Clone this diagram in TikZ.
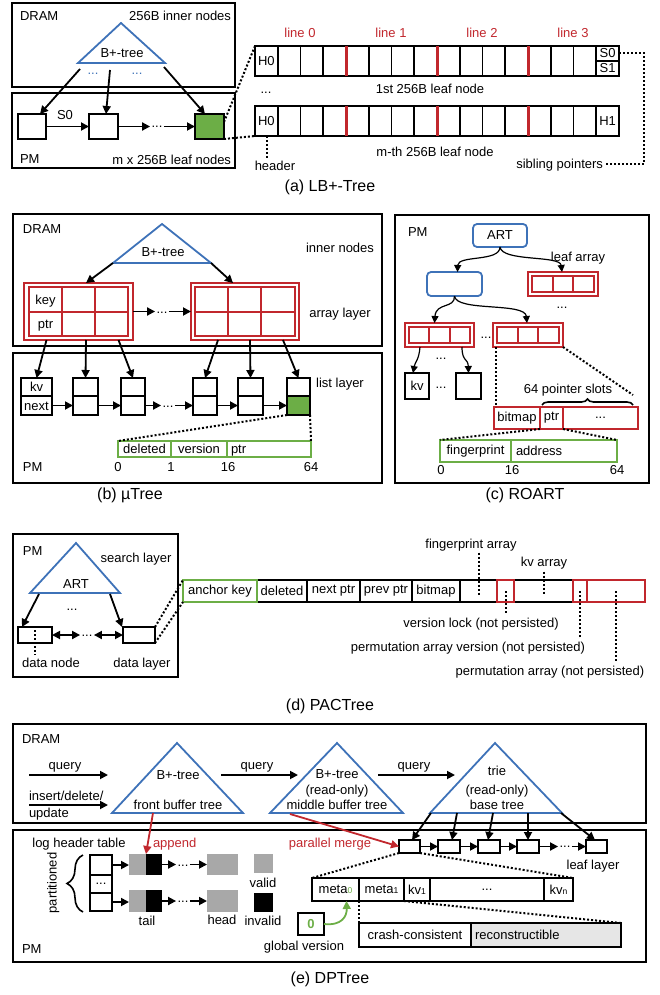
\documentclass[tikz,border=0pt]{standalone}
\usepackage{fontspec}
\setmainfont{Liberation Sans}
\usetikzlibrary{arrows.meta,calc,decorations.pathreplacing}
\definecolor{tblue}{HTML}{3E72B8}
\definecolor{rred}{HTML}{C1272D}
\definecolor{pgreen}{HTML}{6CAE46}
\definecolor{lgray}{HTML}{A8A8A8}
\definecolor{vlgray}{HTML}{E6E6E6}
\newcommand{\myfs}{\fontsize{13}{15}\selectfont}
\newcommand{\subfs}{\fontsize{8.5}{9}\selectfont}
\newcommand{\bx}[7][]{\node[cell,#1,anchor=north west,minimum width={#5pt-#3pt},minimum height={#6pt-#4pt}] (#2) at (#3,#4) {#7};}
\tikzset{
 cell/.style={draw, line width=1.8pt, inner sep=0pt, outer sep=0pt, font=\myfs},
 frame/.style={line width=2pt},
 txt/.style={inner sep=0pt, outer sep=0pt, font=\myfs, text height=9.3pt, text depth=0pt},
 captxt/.style={inner sep=0pt, font=\fontsize{16}{18}\selectfont, text height=11.5pt, text depth=0pt},
 ellip/.style={inner sep=1.5pt, outer sep=0pt, font=\myfs, text height=0pt, text depth=0pt},
 arr/.style={line width=1.8pt, -{Triangle[length=8pt,width=8pt]}},
 darr/.style={line width=1.8pt, {Triangle[length=8pt,width=8pt]}-{Triangle[length=8pt,width=8pt]}},
 arrs/.style={line width=1.2pt, -{Triangle[length=7pt,width=7pt]}},
 dots/.style={line width=2pt, dash pattern=on 2pt off 2pt},
 tri/.style={draw=tblue, line width=1.8pt},
 rcell/.style={draw=rred, line width=1.8pt},
}
\begin{document}
\begin{tikzpicture}[x=1pt,y=-1pt]
\useasboundingbox (0,0) rectangle (660,995);
% ================= (a) LB+-Tree
\bx[frame]{aD}{12}{3}{235}{87}{}
\bx[frame]{aP}{12}{93}{235}{168}{}
\node[txt,anchor=west] (aDt) at (20,16) {DRAM};
\node[txt,anchor=east] (aIt) at (231,16) {256B inner nodes};
\node[txt,anchor=west] (aPt) at (20,159) {PM};
\node[txt,anchor=east] (aLt) at (231,160) {m x 256B leaf nodes};
\draw[tri] (121,23) -- (165,63) -- (78,63) -- cycle;
\node[txt] (aBt) at (122,53) {B+-tree};
\node[ellip,tblue] (aE1) at (93,75) {...};
\node[ellip,tblue] (aE2) at (137,75) {...};
\coordinate (aS1) at (80,69);
\coordinate (aS2) at (110,70);
\coordinate (aS3) at (164,67);
\bx{aB1}{18}{114}{46}{139}{}
\bx{aB2}{89}{114}{118}{139}{}
\bx[fill=pgreen]{aB3}{195}{114}{224}{139}{}
\draw[arr] (aS1) -- ([xshift=8pt]aB1.north);
\draw[arr] (aS2) -- ([xshift=2.5pt]aB2.north);
\draw[arr] (aS3) -- ([xshift=-4.5pt]aB3.north);
\node[txt] (aS0) at (65,115) {S0};
\draw[arr] (aB1.east) -- (aB2.west);
\node[ellip] (aE3) at (157,128) {...};
\draw[arr] (aB2.east) -- (aE3.west |- aB2.east);
\draw[arr] (aE3.east |- aB3.west) -- (aB3.west);
\foreach \i in {0,...,14}{
  \pgfmathsetmacro\xa{255+22.75*\i}
  \pgfmathsetmacro\xb{255+22.75*(\i+1)}
  \bx{aT\i}{\xa}{46}{\xb}{76}{}
  \bx{aM\i}{\xa}{106}{\xb}{136}{}
}
\bx{aS0c}{596.25}{46}{619}{61}{S0}
\bx{aS1c}{596.25}{61}{619}{76}{S1}
\bx{aH1}{596.25}{106}{619}{136}{H1}
\node[txt] (aH0a) at (aT0) {H0};
\node[txt] (aH0b) at (aM0) {H0};
\foreach \i in {4,8,12}{
  \draw[rred, line width=3pt] (aT\i.north west) -- (aT\i.south west);
  \draw[rred, line width=3pt] (aM\i.north west) -- (aM\i.south west);
}
\node[txt,rred] (aL0) at (300,33) {line 0};
\node[txt,rred] (aL1) at (391,33) {line 1};
\node[txt,rred] (aL2) at (482,33) {line 2};
\node[txt,rred] (aL3) at (573,33) {line 3};
\node[txt] (a1st) at (430,89) {1st 256B leaf node};
\node[txt] (amth) at (435,152) {m-th 256B leaf node};
\node[ellip] (aE4) at (266,94) {...};
\node[txt] (aHd) at (275,166) {header};
\draw[dots] ([xshift=1pt]aM0.south) -- ([xshift=1pt,yshift=3pt]aM0.south |- aHd.north);
\node[txt,anchor=east] (aSib) at (603,164) {sibling pointers};
\draw[dots] (aS0c.east) -- ++(25,0) |- ([xshift=1pt]aSib.east);
\draw[dots] ([yshift=-8pt]aB3.north east) -- (aT0.north west);
\draw[dots] (aB3.south east) -- (aM0.south west);
\node[captxt] (aCap) at (330,186) {(a) LB+-Tree};
% ================= (b) muTree
\bx[frame]{bD}{13}{214}{382}{346}{}
\bx[frame]{bP}{13}{353}{382}{483}{}
\node[txt,anchor=west] (bDt) at (23,229) {DRAM};
\node[txt] (bIn) at (340,248) {inner nodes};
\node[txt] (bAl) at (340,313) {array layer};
\node[txt] (bLl) at (340,383) {list layer};
\node[txt,anchor=west] (bPt) at (23,467) {PM};
\draw[tri] (162,224) -- (211,263) coordinate (bTr) -- (113,263) coordinate (bTl) -- cycle;
\node[txt] (bBt) at (163,252) {B+-tree};
\bx[draw=rred,line width=1.3pt]{bA1}{24}{283}{133}{340}{}
\bx[draw=rred,line width=1.3pt]{bA2}{191}{283}{299}{340}{}
\foreach \c/\xa/\xb in {0/29/62,1/62/95,2/95/128}{
  \bx[rcell]{bA1a\c}{\xa}{287}{\xb}{312}{}
  \bx[rcell]{bA1b\c}{\xa}{312}{\xb}{336}{}
}
\foreach \c/\xa/\xb in {0/195/228,1/228/261,2/261/295}{
  \bx[rcell]{bA2a\c}{\xa}{287}{\xb}{312}{}
  \bx[rcell]{bA2b\c}{\xa}{312}{\xb}{336}{}
}
\node[txt] (bKey) at (bA1a0) {key};
\node[txt] (bPtr) at (bA1b0) {ptr};
\draw[arr] (bTl) -- ([xshift=7.5pt]bA1.north);
\draw[arr] (bTr) -- ([xshift=-12pt]bA2.north);
\node[ellip] (bE1) at (162,313) {...};
\draw[arr] (bA1.east) -- (bE1.west |- bA1.east);
\draw[arr] (bE1.east |- bA2.west) -- (bA2.west);
\foreach \n/\xa/\xb in {1/21/52,2/73/98,3/121/145,4/193/217,5/238/263}{
  \bx{bL\n u}{\xa}{378}{\xb}{396}{}
  \bx{bL\n d}{\xa}{396}{\xb}{415}{}
}
\bx{bL6u}{287}{378}{310}{396}{}
\bx[fill=pgreen]{bL6d}{287}{396}{310}{415}{}
\node[txt] (bKv) at (bL1u) {kv};
\node[txt] (bNx) at (bL1d) {next};
\draw[arr] (bL1d.east) -- (bL2d.west);
\draw[arr] (bL2d.east) -- (bL3d.west);
\node[ellip] (bE2) at (168,407) {...};
\draw[arr] (bL3d.east) -- (bE2.west |- bL3d.east);
\draw[arr] (bE2.east |- bL4d.west) -- (bL4d.west);
\draw[arr] (bL4d.east) -- (bL5d.west);
\draw[arr] (bL5d.east) -- (bL6d.west);
\draw[arr] ([xshift=-32pt]bA1.south) -- (bL1u.north);
\draw[arr] ([xshift=7.5pt]bA1.south) -- (bL2u.north);
\draw[arr] ([xshift=40pt]bA1.south) -- (bL3u.north);
\draw[arr] ([xshift=-27pt]bA2.south) -- (bL4u.north);
\draw[arr] ([xshift=5pt]bA2.south) -- (bL5u.north);
\draw[arr] ([xshift=38pt]bA2.south) -- (bL6u.north);
\bx[draw=pgreen]{bG1}{118}{441}{171}{457}{deleted}
\bx[draw=pgreen]{bG2}{171}{441}{227}{457}{version}
\bx[draw=pgreen]{bG3}{227}{441}{311}{457}{}
\node[txt,anchor=west] (bGp) at (231,449) {ptr};
\node[txt] (bN0) at (118,467) {0};
\node[txt] (bN1) at (171,467) {1};
\node[txt] (bN16) at (228,467) {16};
\node[txt] (bN64) at (311,467) {64};
\draw[dots] (bL6d.south west) -- (bG1.north west);
\draw[dots] (bL6d.south east) -- (bG3.north east);
\node[captxt] (bCap) at (130,494) {(b) µTree};
% ================= (c) ROART
\bx[frame]{cP}{395}{215}{649}{483}{}
\node[txt,anchor=west] (cPt) at (408,232) {PM};
\bx[draw=tblue,line width=1.8pt,rounded corners=4pt]{cArt}{473}{224}{527}{247}{ART}
\bx[draw=tblue,line width=1.8pt,rounded corners=4pt]{cN}{427}{272}{482}{296}{}
\node[txt] (cLa) at (578,257) {leaf array};
\foreach \nm/\xa/\ya/\xb/\yb in {cA1/528/272/598/296, cA2/405/323/474/347, cA3/493/323/563/347}{
  \bx[draw=rred,line width=1.3pt]{\nm}{\xa}{\ya}{\xb}{\yb}{}
  \pgfmathsetmacro\w{(\xb-\xa-8)/3}
  \pgfmathsetmacro\yc{\ya+4}
  \pgfmathsetmacro\yd{\yb-4}
  \foreach \k in {0,1,2}{
    \pgfmathsetmacro\u{\xa+4+\k*\w}
    \pgfmathsetmacro\v{\u+\w}
    \bx[rcell]{\nm c\k}{\u}{\yc}{\v}{\yd}{}
  }
}
\node[ellip] (cE1) at (562,308) {...};
\node[ellip] (cE2) at (486,338) {...};
\draw[arrs] (cArt.south) .. controls (500,262) and (458,255) .. ([xshift=3pt]cN.north);
\draw[arrs] (cArt.south) .. controls (502,262) and (560,255) .. ([xshift=-1pt]cA1.north);
\draw[arrs] (cN.south) .. controls (455,309) and (436,302) .. ([xshift=-5pt]cA2.north);
\draw[arrs] (cN.south) .. controls (456,312) and (525,302) .. ([xshift=-1pt]cA3.north);
\bx{cKv}{405}{373}{429}{399}{kv}
\bx{cEm}{456}{373}{481}{399}{}
\node[ellip] (cE3) at (441,359) {...};
\node[ellip] (cE4) at (441,388) {...};
\draw[arrs] ([xshift=-19.5pt]cA2.south) .. controls (419,360) and (415,362) .. ([xshift=-4pt]cKv.north);
\draw[arrs] ([xshift=22.5pt]cA2.south) .. controls (462,362) and (468,358) .. (cEm.north);
\bx[rcell]{cBm1}{494}{407}{540}{429}{bitmap}
\bx[rcell]{cBm2}{540}{407}{563}{429}{ptr}
\bx[rcell]{cBm3}{563}{407}{638}{429}{...}
\draw[dots] ([xshift=3pt]cA3.south west) -- ([xshift=2pt]cBm1.north west);
\node[txt] (cPs) at (568,389) {64 pointer slots};
\coordinate (cBrL) at (542,405);
\coordinate (cBrR) at (633,405);
\draw[decorate,decoration={brace,amplitude=6pt},line width=1.6pt] (cBrL) -- (cBrR);
\draw[dots] (cA3.south east) -- ([yshift=10pt]cBrR);
\bx[draw=pgreen]{cF1}{440}{440}{511}{462}{fingerprint}
\bx[draw=pgreen]{cF2}{511}{440}{617}{462}{}
\node[txt,anchor=west] (cAd) at (516,451) {address};
\draw[dots] (cBm2.south west) -- (cF1.north west);
\draw[dots] (cBm2.south east) -- (cF2.north east);
\node[txt] (cN0) at (441,470) {0};
\node[txt] (cN16) at (512,470) {16};
\node[txt] (cN64) at (617,470) {64};
\node[captxt] (cCap) at (525,494) {(c) ROART};
% ================= (d) PACTree
\bx[frame]{dP}{13}{534}{178}{677}{}
\node[txt,anchor=west] (dPt) at (23,551) {PM};
\node[txt] (dSl) at (136,558) {search layer};
\draw[tri] (76,543) -- (120,593) -- (30,593) -- cycle;
\node[txt] (dArt) at (76,584) {ART};
\node[ellip] (dE1) at (72,610) {...};
\coordinate (dS1) at (39,594);
\coordinate (dS2) at (110,594);
\bx{dN1}{18}{627}{52}{643}{}
\bx{dN2}{123}{627}{155}{643}{}
\draw[arr] (dS1) -- ([xshift=4pt]dN1.north west);
\draw[arr] (dS2) -- ([xshift=-1pt]dN2.north west);
\node[ellip] (dE2) at (87,636) {...};
\draw[darr] (dN1.east) -- (dE2.west |- dN1.east);
\draw[darr] (dE2.east |- dN2.west) -- (dN2.west);
\node[txt] (dDn) at (51,663) {data node};
\node[txt] (dDl) at (142,663) {data layer};
\draw[dots] ([yshift=5pt]dN1.center) -- ([yshift=4pt]dN1.center |- dDn.north);
\bx{dR2}{257}{580}{307}{602}{deleted}
\bx{dR3}{307}{580}{360}{602}{next ptr}
\bx{dR4}{360}{580}{412}{602}{prev ptr}
\bx{dR5}{412}{580}{460}{602}{bitmap}
\bx{dR6}{460}{580}{497}{602}{}
\bx{dR7}{514}{580}{573}{602}{}
\bx[draw=pgreen,line width=2.2pt]{dR1}{183}{580}{257}{602}{anchor key}
\bx[draw=rred,line width=2.6pt]{dRv}{497}{580}{514}{602}{}
\bx[draw=rred,line width=2.6pt]{dRp}{573}{580}{587}{602}{}
\bx[draw=rred,line width=2.6pt]{dRa}{587}{580}{645}{602}{}
\draw[dots] (dN2.north east) -- (dR1.north west);
\draw[dots] (dN2.south east) -- (dR1.south west);
\node[txt] (dFa) at (471,544) {fingerprint array};
\draw[dots] ([yshift=-4pt]dR6.center |- dFa.south) -- ([yshift=-4pt]dR6.center);
\node[txt] (dKa) at (544,562) {kv array};
\draw[dots] ([yshift=-5pt]dR7.center |- dKa.south) -- ([yshift=-3pt]dR7.center);
\node[txt] (dVl) at (481,623) {version lock (not persisted)};
\draw[dots] (dRv.center) -- ([yshift=4pt]dRv.center |- dVl.north);
\node[txt] (dPv) at (468,647) {permutation array version (not persisted)};
\draw[dots] (dRp.center) -- ([yshift=5pt]dRp.center |- dPv.north);
\node[txt] (dPa) at (550,671) {permutation array (not persisted)};
\draw[dots] (dRa.center) -- ([yshift=5pt]dRa.center |- dPa.north);
\node[captxt] (dCap) at (330,705) {(d) PACTree};
% ================= (e) DPTree
\bx[frame]{eD}{13}{724}{646}{823}{}
\bx[frame]{eP}{13}{830}{646}{962}{}
\node[txt,anchor=west] (eDt) at (22,739) {DRAM};
\node[txt,anchor=west] (ePt) at (22,949) {PM};
\coordinate (eQ1s) at (29,775); \coordinate (eQ1e) at (108,775);
\draw[arr] (eQ1s) -- (eQ1e);
\node[txt] (eQ1t) at (65,765) {query};
\node[txt,anchor=west] (eIns) at (29,796) {insert/delete/};
\node[txt,anchor=west] (eUpd) at (29,813) {update};
\coordinate (eI1s) at (29,805); \coordinate (eI1e) at (108,805);
\draw[arr] (eI1s) -- (eI1e);
\draw[tri] (177,743) -- (243,813) -- (112,813) -- cycle;
\node[txt] (eT1a) at (178,775) {B+-tree};
\node[txt] (eT1b) at (178,805) {front buffer tree};
\draw[tri] (337,743) -- (403,813) -- (270,813) -- cycle;
\node[txt] (eT2a) at (337,774) {B+-tree};
\node[txt] (eT2b) at (337,790) {(read-only)};
\node[txt] (eT2c) at (337,805) {middle buffer tree};
\draw[tri] (495,743) -- (562,813) -- (430,813) -- cycle;
\node[txt] (eT3a) at (497,771) {trie};
\node[txt] (eT3b) at (497,790) {(read-only)};
\node[txt] (eT3c) at (497,805) {base tree};
\coordinate (eQ2s) at (221,775); \coordinate (eQ2e) at (298,775);
\draw[arr] (eQ2s) -- (eQ2e);
\node[txt] (eQ2t) at (257,765) {query};
\coordinate (eQ3s) at (378,775); \coordinate (eQ3e) at (455,775);
\draw[arr] (eQ3s) -- (eQ3e);
\node[txt] (eQ3t) at (414,765) {query};
% leaf layer
\bx{eL1}{399}{840}{420}{853}{}
\bx{eL2}{438}{840}{460}{853}{}
\bx{eL3}{478}{840}{500}{853}{}
\bx{eL4}{517}{840}{539}{853}{}
\bx{eL5}{586}{840}{607}{853}{}
\draw[arr] (eL1.east) -- (eL2.west);
\draw[arr] (eL2.east) -- (eL3.west);
\draw[arr] (eL3.east) -- (eL4.west);
\node[ellip] (eE1) at (565,847) {...};
\draw[arr] (eL4.east) -- (eE1.west |- eL4.east);
\draw[arr] (eE1.east |- eL5.west) -- (eL5.west);
\coordinate (eB1) at (431,813);
\coordinate (eB2) at (457,813);
\coordinate (eB3) at (493,813);
\coordinate (eB4) at (528,813);
\coordinate (eB5) at (561,813);
\draw[arr] (eB1) -- ([xshift=2.5pt]eL1.north);
\draw[arr] (eB2) -- ([xshift=3pt]eL2.north);
\draw[arr] (eB3) -- ([xshift=-1pt]eL3.north);
\draw[arr] (eB4) -- (eL4.north);
\draw[arr] (eB5) -- ([xshift=-1.5pt]eL5.north);
\node[txt] (eLl) at (593,865) {leaf layer};
% labels
\node[txt] (eLog) at (79,843) {log header table};
\node[txt,rred,anchor=west] (eApp) at (153,843) {append};
\node[txt,rred] (ePm) at (330,843) {parallel merge};
% log
\bx{eH1}{90}{855}{112}{875}{}
\bx{eH2}{90}{875}{112}{893}{...}
\bx{eH3}{90}{893}{112}{911}{}
\bx[draw=none,fill=lgray]{eG1}{129}{854}{146}{875}{}
\bx[draw=none,fill=black]{eK1}{146}{854}{162}{875}{}
\bx[draw=none,fill=lgray]{eG3}{207}{854}{238}{875}{}
\bx[draw=none,fill=lgray]{eG2}{129}{890}{146}{912}{}
\bx[draw=none,fill=black]{eK2}{146}{890}{162}{912}{}
\bx[draw=none,fill=lgray]{eG4}{207}{890}{238}{912}{}
\draw[arr] (eH1.east) -- (eH1.east -| eG1.west);
\draw[arr] (eH3.east) -- (eH3.east -| eG2.west);
\node[ellip] (eE2) at (183,866) {...};
\node[ellip] (eE3) at (183,902) {...};
\draw[arr] (eK1.east) -- (eE2.west |- eK1.east);
\draw[arr] (eE2.east |- eG3.west) -- (eG3.west);
\draw[arr] (eK2.east) -- (eE3.west |- eK2.east);
\draw[arr] (eE3.east |- eG4.west) -- (eG4.west);
\node[txt] (eTail) at (147,921) {tail};
\node[txt] (eHead) at (222,920) {head};
\bx[draw=none,fill=lgray]{eVs}{254}{854}{273}{873}{}
\node[txt] (eVt) at (263,883) {valid};
\bx[draw=none,fill=black]{eIs}{254}{893}{273}{912}{}
\node[txt] (eIt) at (263,921) {invalid};
\node[txt,rotate=90] (ePart) at (52,883) {partitioned};
\draw[decorate,decoration={brace,amplitude=16pt},line width=1.6pt] (83,912) coordinate (eBrB) -- (83,855) coordinate (eBrT);
\coordinate (eA1s) at (153,813);
\draw[arr,rred] (eA1s) -- (eK1.north west);
\coordinate (eA2s) at (290,814);
\draw[arr,rred] (eA2s) -- (eL1.west);
% record
\bx{eR1}{312}{878}{359}{901}{meta{\subfs\textcolor{pgreen}{0}}}
\bx{eR2}{359}{878}{404}{901}{meta{\subfs 1}}
\bx{eR3}{404}{878}{430}{901}{kv{\subfs 1}}
\bx{eR4}{430}{878}{544}{901}{...}
\bx{eR5}{544}{878}{573}{901}{kv{\subfs n}}
\draw[dots] (eL1.south west) -- (eR1.north west);
\draw[dots] (eL1.south east) -- (eR5.north east);
\bx{eGv}{298}{913}{324}{935}{\textcolor{pgreen}{\bfseries 0}}
\node[txt] (eGvt) at (304,946) {global version};
\draw[line width=1.8pt, pgreen, -{Triangle[length=8pt,width=8pt]}] (eGv.east) .. controls (342,926) and (347,916) .. ([xshift=11pt]eR1.south);
\bx{eC1}{359}{923}{471}{947}{crash-consistent}
\bx[fill=vlgray]{eC2}{471}{923}{621}{947}{}
\node[txt,anchor=west] (eRc) at (475,935) {reconstructible};
\draw[dots] (eR2.south west) -- (eC1.north west);
\draw[dots] (eR2.south east) -- (eC2.north east);
\node[captxt] (eCap) at (330,978) {(e) DPTree};
\end{tikzpicture}
\end{document}
